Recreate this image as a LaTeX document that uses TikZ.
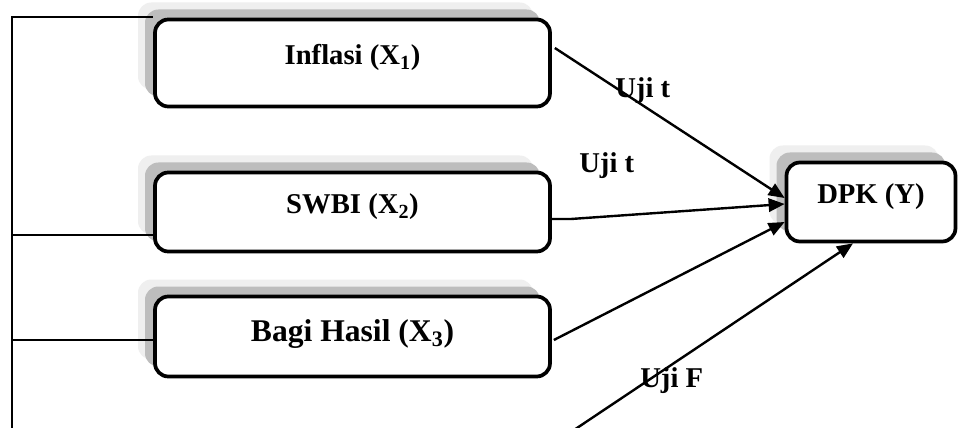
\documentclass[tikz,border=0pt]{standalone}
\usepackage{fontspec}
\setmainfont{Liberation Serif}
\usetikzlibrary{shadows,calc,arrows.meta}
\definecolor{shdark}{HTML}{BDBDBD}
\definecolor{shlight}{HTML}{EFEFEF}
\begin{document}
\begin{tikzpicture}[x=0.75pt,y=-0.75pt,
  varbox/.style={draw=black, line width=2.8pt, rounded corners=10pt, fill=white,
    align=center, inner sep=0pt, text height=12pt, text depth=9pt,
    font=\fontsize{21.5pt}{25pt}\selectfont\bfseries,
    general shadow={shadow xshift=-12.75pt, shadow yshift=12.75pt, fill=shlight, draw=none},
    general shadow={shadow xshift=-7.5pt, shadow yshift=7.5pt, fill=shdark, draw=none}},
  link/.style={line width=1.1pt},
  arr/.style={line width=1.8pt, -{Triangle[length=12pt,width=10pt]}},
  lbl/.style={anchor=base west, inner sep=0pt, font=\fontsize{21.5pt}{25pt}\selectfont\bfseries}]
\useasboundingbox (0,0) rectangle (958,428);
\fill[white] (0,0) rectangle (958,428);

\node[varbox, minimum width=395*0.75pt, minimum height=87*0.75pt] (infl) at (352.5,63) {Inflasi (X\textsubscript{1})};
\node[varbox, minimum width=395*0.75pt, minimum height=79*0.75pt] (swbi) at (352.5,212) {SWBI (X\textsubscript{2})};
\node[varbox, minimum width=395*0.75pt, minimum height=80*0.75pt, text depth=4pt,
  font=\fontsize{23.7pt}{27pt}\selectfont\bfseries] (bh) at (352.5,336.5) {Bagi Hasil (X\textsubscript{3})};
\node[varbox, minimum width=169*0.75pt, minimum height=79*0.75pt] (dpk) at (871,202) {DPK (Y)};

\coordinate (lt) at (12,17);
\coordinate (lb) at (12,432);
\draw[link] (lb) -- (lt) -- (lt -| infl.west);
\draw[link] ($(swbi.west)+(0,23)$) coordinate (s2) -- (s2 -| lt);
\draw[link] ($(bh.west)+(0,3.5)$) coordinate (s3) -- (s3 -| lt);

\draw[arr] ($(infl.east)+(3,-15)$) -- ($(dpk.west)+(0,-4)$);
\draw[arr] ($(swbi.east)+(0,7)$) -- ++(19,0) -- ($(dpk.west)+(0,2)$);
\draw[arr] ($(bh.east)+(2,3.5)$) -- ($(dpk.west)+(0,20)$);
\coordinate (fs) at (571,432);
\draw[arr] (fs) -- ($(dpk.south)+(-18,0)$);

\node[lbl] (t1) at (615,98) {Uji t};
\node[lbl] (t2) at (579,172) {Uji t};
\node[lbl] (tf) at (640,387) {Uji F};
\end{tikzpicture}
\end{document}
